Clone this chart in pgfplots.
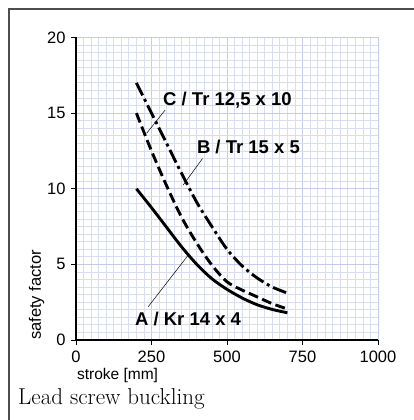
\documentclass[border=0pt]{standalone}
\usepackage{pgfplots}
\pgfplotsset{compat=1.18}
\usepackage{fontspec}
\newfontfamily\arial{Liberation Sans}
\definecolor{gridminor}{HTML}{D9DDF2}
\definecolor{gridmajor}{HTML}{C6CBEA}
\definecolor{framegray}{HTML}{4D4D4D}
\begin{document}
\begin{tikzpicture}[x=1pt,y=1pt]
\useasboundingbox (0,0) rectangle (414,420);
\draw[framegray,line width=1.6pt] (9,0) -- (9,411) -- (414,411);
\begin{axis}[
  at={(76pt,80pt)}, anchor=south west,
  width=302pt, height=302.5pt, scale only axis,
  xmin=0, xmax=1000, ymin=0, ymax=20,
  axis x line*=bottom, axis y line*=left,
  axis line style={black,line width=1.4pt},
  xtick={0,250,...,1000}, ytick={0,5,...,20},
  minor x tick num=9, minor y tick num=9,
  minor tick length=0pt,
  major tick length=5pt, tick align=outside,
  major tick style={black,line width=0.8pt},
  grid=both,
  major grid style={gridmajor,line width=1pt},
  minor grid style={gridminor,line width=0.8pt},
  /pgf/number format/assume math mode=true,
  /pgf/number format/set thousands separator={},
  ticklabel style={font=\arial\fontsize{16.5}{18}\selectfont},
  xticklabel style={yshift=-2pt},
  yticklabel style={xshift=-2pt},
  clip=false,
]
\addplot[black,line width=2.9pt,smooth] coordinates {
(200,10) (250,8.75) (300,7.45) (350,6.15) (400,5.0) (450,4.05)
(500,3.35) (550,2.78) (600,2.33) (650,2.02) (700,1.8)};
\addplot[black,line width=2.9pt,smooth,dash pattern=on 10pt off 4.5pt] coordinates {
(200,15) (250,12.5) (300,10.2) (350,8.1) (400,6.4) (450,4.95)
(500,3.85) (550,3.3) (600,2.85) (650,2.4) (700,2.05)};
\addplot[black,line width=2.9pt,smooth,dash pattern=on 14pt off 4pt on 3pt off 4pt] coordinates {
(200,17) (250,15) (300,13.0) (350,11.0) (400,9.1) (450,7.5)
(500,6.0) (550,4.9) (600,4.1) (650,3.5) (700,3.1)};
\draw[black,line width=0.5pt] (axis cs:295,15.2) -- (axis cs:234,13.67);
\draw[black,line width=0.5pt] (axis cs:419,12.0) -- (axis cs:355,10.25);
\draw[black,line width=0.5pt] (axis cs:239,2.2) -- (axis cs:372,5.62);
\node[anchor=base west,inner sep=0pt,font=\arial\bfseries\fontsize{18.5}{20}\selectfont] at (axis cs:288,15.5) {C / Tr 12,5 x 10};
\node[anchor=base west,inner sep=0pt,font=\arial\bfseries\fontsize{18.5}{20}\selectfont] at (axis cs:400,12.3) {B / Tr 15 x 5};
\node[anchor=base west,inner sep=0pt,font=\arial\bfseries\fontsize{18.5}{20}\selectfont] at (axis cs:195,0.99) {A / Kr 14 x 4};
\node[rotate=90,anchor=base west,inner sep=0pt,font=\arial\fontsize{16.5}{18}\selectfont] at (rel axis cs:-0.116,0) {safety factor};
\node[anchor=base west,inner sep=0pt,font=\arial\fontsize{15.5}{18}\selectfont] at (rel axis cs:0.003,-0.132) {stroke [mm]};
\end{axis}
\node[anchor=base west,inner sep=0pt,font=\fontsize{23}{25}\selectfont] at (18,15) {Lead screw buckling};
\end{tikzpicture}
\end{document}
